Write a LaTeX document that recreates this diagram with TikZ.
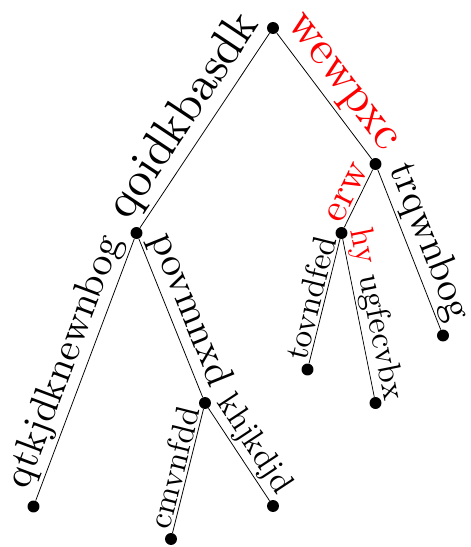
\documentclass[tikz,border=0pt]{standalone}
\usepackage{xcolor}
\usepackage{tikz}

\begin{document}
\begin{tikzpicture}[x=0.52pt, y=-0.52pt]
    % Define styles
    \tikzstyle{dot} = [circle, fill=black, inner sep=0pt, minimum size=6.2pt]
    \tikzstyle{lone} = [sloped, above, inner sep=0.6pt, scale=2.5]
    \tikzstyle{ltwo} = [sloped, above, inner sep=0.6pt, scale=2.08]
    \tikzstyle{lthree} = [sloped, above, inner sep=0.6pt, scale=1.73]

    \useasboundingbox (0,0) rectangle (470,547);

    % Nodes
    \node[dot] (root) at (273, 28) {};
    \node[dot] (a) at (136.5, 233) {};
    \node[dot] (b) at (375.5, 164) {};
    \node[dot] (aleaf) at (33.5, 506.5) {};
    \node[dot] (c) at (205, 403) {};
    \node[dot] (cleft) at (171, 539) {};
    \node[dot] (cright) at (273, 506) {};
    \node[dot] (d) at (341.5, 233) {};
    \node[dot] (bleaf) at (443, 335.5) {};
    \node[dot] (dleft) at (307.5, 369.5) {};
    \node[dot] (dright) at (375.5, 403) {};

    % Edges
    \draw (root) -- node[lone] {qoidkbasdk} (a);
    \draw (root) -- node[lone, text=red] {wewpxc} (b);
    \draw (a) -- node[ltwo] {qtkjdknewnbog} (aleaf);
    \draw (a) -- node[ltwo] {povmnxd} (c);
    \draw (b) -- node[ltwo, text=red] {erw} (d);
    \draw (b) -- node[ltwo] {trqwnbog} (bleaf);
    \draw (c) -- node[lthree] {cmvnfdd} (cleft);
    \draw (c) -- node[lthree] {khjkdjd} (cright);
    \draw (d) -- node[lthree] {tovndfed} (dleft);
    \draw (d) -- node[lthree] {{\color{red}hy} ugfecvbx} (dright);

\end{tikzpicture}
\end{document}
